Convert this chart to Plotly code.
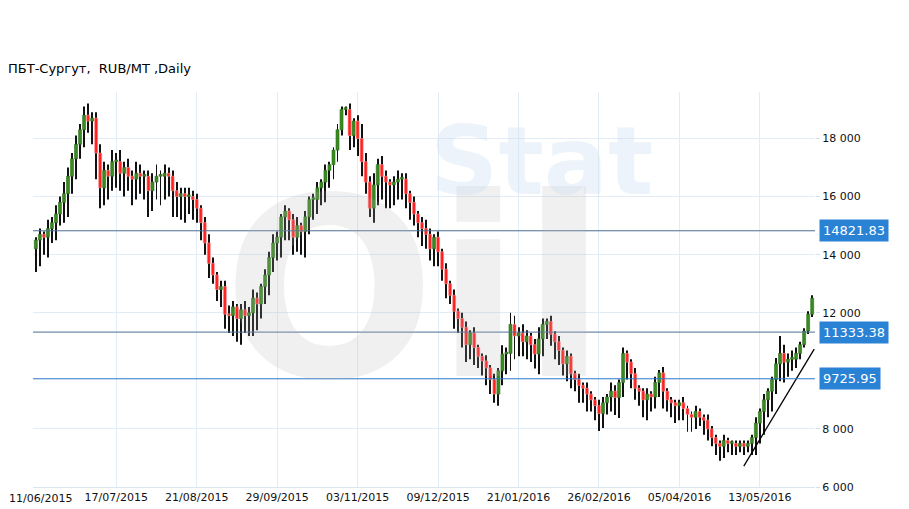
import plotly.graph_objects as go

# цены закрытия по свечам (читались с картинки)
close = [
    14500, 14700, 14600, 14900, 15100, 15400, 15800, 16100, 16700, 17300, 17800, 18300, 18800,
    18600, 18700, 17500,
    16300, 16900, 16700, 17200,
    17200, 16800, 17000, 16700, 16600, 16800, 16700, 16700, 16200, 16500, 16700, 16700, 16800,
    16700, 16200, 16000, 16100, 16000, 16000, 15900, 15600,
    15100, 14400, 13700, 13300, 12800, 12900, 11950,
    11900, 12200, 11800, 12100, 11900, 12000, 12500, 12300, 12900, 13300, 13900,
    14400, 14600, 15300, 15500, 15200, 14600, 15000, 14800, 15300, 15900, 15900, 16300, 16500,
    16900, 17100, 17600, 18300, 19000, 19000,
    18100, 18600, 18000, 17200, 16500, 15600, 16400, 17100, 16700, 16500, 16400, 16500, 16600,
    16600, 16100, 15800, 15400,
    15100, 14900, 14700, 14200, 14600, 14100, 13500, 13000, 12600, 12050, 11800, 11500, 10900,
    11300, 10800, 10500, 10340, 10100, 9700, 9200,
    10000, 10580, 10600, 11600, 11200, 11300, 11000, 11200, 10900, 10580, 11100, 11600, 11700,
    11260, 11000, 10700, 10240, 10500, 9900, 9700, 9500, 9400, 9200, 9000, 8800, 8530, 8900,
    9100, 9300, 9080,
    9600, 10600, 10300, 9900, 9400, 9300, 9000, 9200, 9100, 9600, 9930, 9300, 9000, 8900, 8800, 8900,
    8700, 8500, 8400, 8600, 8400, 8300, 8000, 7700, 7500, 7400, 7600, 7500, 7500, 7400, 7500,
    7400, 7500, 7700,
    8200, 8600, 9000, 9300, 9700, 10240, 10600, 10300, 10400, 10400, 10600, 10900, 11370, 11950, 12500,
]
first_open = 14200

# длина нижних / верхних теней, в сотнях рублей
low_wick = [
    8, 9, 6, 7, 5, 6, 4, 7, 8, 6, 7, 5, 6, 4, 8, 9, 7, 6, 8, 5,
    9, 6, 8, 5, 9, 7, 6, 8, 9, 7, 6, 10, 8, 7, 9, 7, 8, 9, 6, 7,
    5, 6, 4, 5, 3, 4, 6, 5, 6, 7, 8, 9, 6, 7, 8, 9, 5, 6, 7, 5,
    6, 7, 8, 7, 6, 5, 8, 9, 6, 7, 5, 6, 7, 6, 5, 4, 2, 2, 5, 4,
    6, 5, 4, 3, 5, 7, 8, 9, 8, 7, 6, 7, 5, 6, 4, 5, 6, 5, 4, 6,
    5, 4, 5, 3, 6, 5, 7, 6, 5, 6, 4, 5, 6, 5, 3, 4, 5, 7, 6, 8,
    7, 5, 6, 6, 5, 7, 6, 5, 4, 6, 5, 4, 6, 5, 4, 6, 5, 6, 4, 5,
    6, 5, 4, 5, 6, 7, 5, 6, 5, 4, 5, 6, 7, 5, 4, 5, 6, 4, 5, 6,
    5, 4, 6, 5, 4, 3, 5, 4, 3, 4, 5, 4, 3, 4, 3, 2, 3, 2, 4, 6,
    7, 8, 6, 7, 5, 6, 7, 5, 4, 3, 2, 1, 1, 1,
]
high_wick = [
    1, 2, 1, 3, 2, 3, 2, 4, 3, 2, 3, 2, 3, 4, 2, 2, 3, 3, 2, 4,
    3, 4, 2, 3, 2, 4, 3, 2, 2, 3, 4, 2, 3, 2, 2, 3, 2, 2, 3, 2,
    2, 1, 2, 3, 2, 1, 2, 2, 3, 2, 1, 2, 3, 2, 3, 2, 1, 2, 2, 3,
    2, 1, 2, 1, 2, 3, 1, 2, 1, 2, 2, 1, 2, 1, 1, 2, 1, 1, 2, 1,
    2, 5, 3, 2, 4, 2, 3, 2, 1, 2, 3, 2, 2, 1, 2, 1, 2, 3, 2, 1,
    2, 1, 2, 1, 2, 1, 2, 2, 1, 2, 1, 1, 2, 1, 2, 1, 3, 2, 4, 3,
    2, 3, 2, 1, 2, 4, 2, 1, 2, 1, 2, 1, 2, 1, 1, 2, 1, 2, 1, 1,
    2, 2, 1, 3, 2, 1, 2, 1, 1, 2, 1, 1, 2, 1, 2, 1, 2, 1, 1, 1,
    1, 2, 1, 1, 2, 1, 1, 2, 1, 1, 1, 2, 1, 1, 1, 1, 1, 1, 1, 2,
    1, 2, 1, 1, 2, 6, 3, 2, 3, 2, 1, 1, 1, 1,
]

x_ticks = list(range(0, 200, 20))
x_labels = ["11/06/2015", "17/07/2015", "21/08/2015", "29/09/2015", "03/11/2015",
            "09/12/2015", "21/01/2016", "26/02/2016", "05/04/2016", "13/05/2016"]
y_ticks = [6000, 8000, 12000, 14000, 16000, 18000]
levels = [14821.83, 11333.38, 9725.95]
trend_x = [176, 193.5]
trend_y = [6720, 10750]

n = len(close)
xs = list(range(n))
opens = [first_open] + close[:-1]
lows = [min(o, c) - low_wick[i % len(low_wick)] * 100 for i, (o, c) in enumerate(zip(opens, close))]
highs = [max(o, c) + high_wick[i % len(high_wick)] * 100 for i, (o, c) in enumerate(zip(opens, close))]

fig = go.Figure()

# тени свечей - черные узкие столбики (под телами)
fig.add_trace(go.Bar(x=xs, base=lows, y=[h - l for h, l in zip(highs, lows)],
                     width=0.24, marker=dict(color="#111", line=dict(width=0)),
                     hoverinfo="skip", showlegend=False))

# тела свечей
body_col = ["#3a8a22" if c >= o else "#ff1f1f" for o, c in zip(opens, close)]
edge_col = ["#2e6e1a" if c >= o else "#ff9090" for o, c in zip(opens, close)]
fig.add_trace(go.Bar(
    x=xs, base=[min(o, c) for o, c in zip(opens, close)],
    y=[max(abs(c - o), 60) for o, c in zip(opens, close)],
    width=0.75, marker=dict(color=body_col, line=dict(color=edge_col, width=0.6)),
    showlegend=False,
))

# уровни
for lv in levels:
    fig.add_shape(type="line", xref="paper", x0=0, x1=1, yref="y", y0=lv, y1=lv,
                  line=dict(color="#2b78c8" if lv < 10000 else "#4d6f93", width=1))
    fig.add_annotation(xref="paper", x=1.005, y=lv, xanchor="left", yanchor="middle",
                       text=f"{lv:.2f}", showarrow=False, bgcolor="#2a82d5",
                       font=dict(color="white", size=13, family="DejaVu Sans"),
                       borderpad=3)

# трендовая линия
fig.add_trace(go.Scatter(x=trend_x, y=trend_y, mode="lines",
                         line=dict(color="black", width=1.3), showlegend=False))

# первая подпись даты (plotly прячет её у края)
fig.add_annotation(xref="paper", yref="paper", x=0, xshift=-26, y=0, yshift=-3,
                   xanchor="left", yanchor="top", text=x_labels[0], showarrow=False,
                   font=dict(size=11, family="DejaVu Sans", color="#111"))

# водяной знак
fig.add_annotation(xref="paper", yref="paper", x=0.24, y=0.5, text="<b>Oil</b>",
                   showarrow=False, font=dict(size=250, color="rgba(180,180,180,0.2)",
                                              family="DejaVu Sans"))
fig.add_annotation(xref="paper", yref="paper", x=0.65, y=0.97, text="<b>Stat</b>",
                   showarrow=False, font=dict(size=95, color="rgba(200,220,240,0.35)",
                                              family="DejaVu Sans"))

# страница даёт отступ 8px, поэтому холст немного меньше окна
fig.update_layout(
    width=901, height=501,
    margin=dict(l=25, r=94, t=84, b=22, autoexpand=False),
    paper_bgcolor="white", plot_bgcolor="white",
    barmode="overlay",
    font=dict(family="DejaVu Sans", size=11, color="#111"),
    title=dict(text="ПБТ-Сургут,  RUB/MT ,Daily", x=0.0, xanchor="left",
               y=0.88, yanchor="middle",
               font=dict(size=13, color="black", family="DejaVu Sans")),
)
fig.update_xaxes(range=[-0.7, n - 0.3], tickvals=x_ticks[1:], ticktext=x_labels[1:],
                 showgrid=True, gridcolor="#e2ecf6", zeroline=False, automargin=False,
                 showline=True, linecolor="#dbe6f2", ticks="", tickfont=dict(size=11))
fig.update_yaxes(range=[6000, 19600], side="right", tickvals=y_ticks,
                 ticktext=[f"{v:,}".replace(",", " ") for v in y_ticks], automargin=False,
                 showgrid=True, gridcolor="#e2ecf6", zeroline=False,
                 ticks="outside", ticklen=4, tickcolor="#cfdff0", tickfont=dict(size=11))

fig.write_html("out.html")
